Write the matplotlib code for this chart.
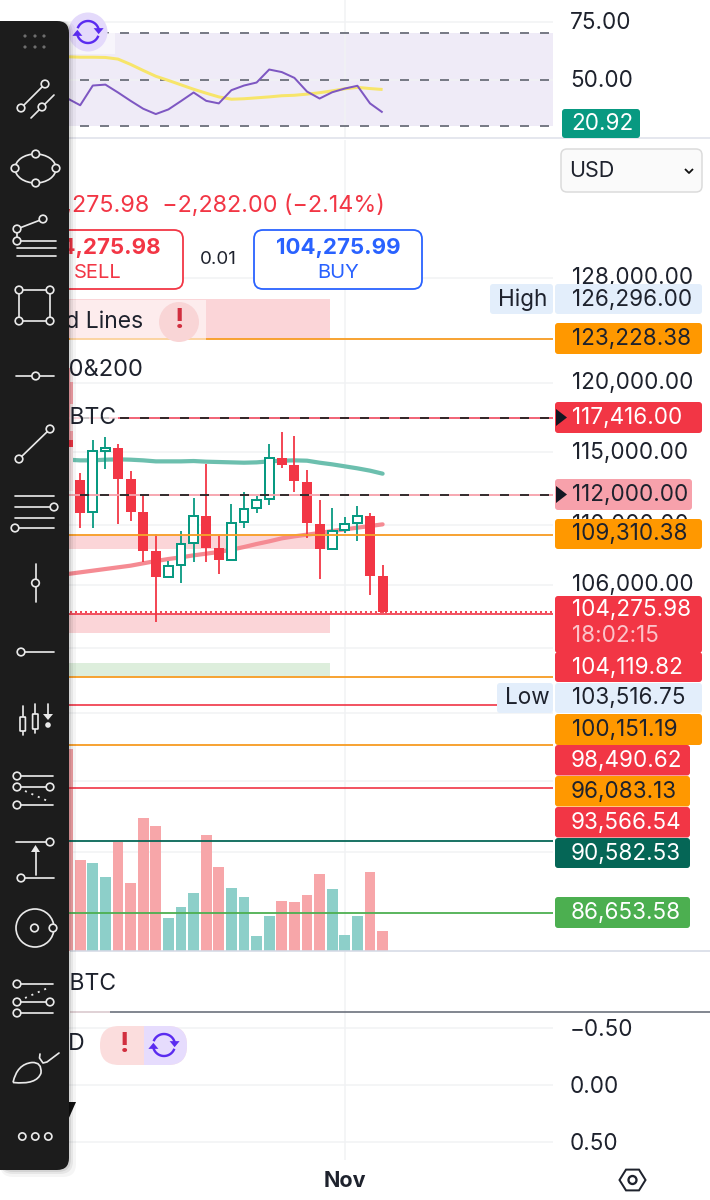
import numpy as np
import matplotlib
matplotlib.use("Agg")
import matplotlib.pyplot as plt
from matplotlib.patches import FancyBboxPatch, Rectangle, Circle, Ellipse, Polygon, PathPatch
from matplotlib.path import Path
from matplotlib.transforms import ScaledTranslation

plt.rcParams['font.family'] = ['Inter', 'DejaVu Sans']
plt.rcParams['lines.scale_dashes'] = False
plt.rcParams['lines.solid_capstyle'] = 'butt'

# ---------- data ----------
candle_index = list(range(-1, 25))
opens  = [121100,113050,110850,115103,115314,113119,110850,108254,106496,107283,108742,110602,108409,107656,110197,111101,111740,114585,114118,112935,110061,108364,109656,110106,110580,106605]
closes = [112300,110805,115103,115314,113119,110873,108254,106496,107218,108719,110580,108409,107612,110129,111033,111649,114562,114118,112958,110084,108342,109567,110039,110557,106605,104276]
highs  = [121100,113514,115858,116096,115550,113700,112014,109344,107568,109567,111786,114164,109232,111398,112198,111946,115597,116451,116143,113746,111649,111101,110512,111280,110760,107305]
lows   = [112300,109745,109745,113792,110016,110264,107524,103591,106430,106149,107524,107524,106714,107612,109790,110760,111330,113909,112244,109121,106365,108364,109410,108875,105348,104212]
volumes= [202,91,88,74,109,68,133,125,33,44,58,116,84,63,54,15,35,50,49,56,77,62,16,35,79,20]
ma_fast= [114468,114421,114421,114468,114492,114468,114421,114350,114350,114350,114374,114327,114304,114280,114257,114280,114350,114397,114421,114397,114257,114141,114002,113862,113700,113490]
ma_slow= [106714,106824,106933,107043,107152,107262,107415,107568,107701,107812,107944,108055,108166,108320,108497,108697,108875,109076,109210,109321,109433,109567,109678,109790,109903,110016]
rsi    = [41.8,38.9,47.4,47.8,44.4,40.8,37.4,35.1,37.1,40.7,44.4,40.8,39.7,45.4,47.4,48.7,54.3,53.2,50.7,44.8,41.8,44.5,46.1,47.3,39.7,35.8]
rsi_ma = [59.8,59.6,59.6,59.5,58.8,56.5,53.9,51.4,49.6,47.7,45.8,44.1,42.5,41.5,41.7,42.1,42.5,43.0,43.2,43.7,44.3,45.1,46.0,46.6,46.1,45.7]
price_ticks = [128000,120000,115000,110000,106000,102000,98000,94000,90000]
price_tick_labels = ['128,000.00','120,000.00','115,000.00','110,000.00','106,000.00','','','','']
rsi_ticks = [75,50]
macd_ticks = [-0.5,0.0,0.5]
level_orange = [123228.38,109310.38,100151.19,96083.13]
level_red = [104119.82,98490.62,93566.54]
level_dkgreen = 90582.53
level_green = 86653.58
level_alert_hi = 117416.00
level_alert_lo = 112000.00
last_price = 104275.98
zones = [(126296,123228,'#FBD5D8'),(109310,108365,'#FBD5D8'),(104119,102922,'#FBD5D8'),(101045,100151,'#DDEEDC')]
nov_index = 21

W, H = 710, 1200
fig = plt.figure(figsize=(W/100, H/100), dpi=100, facecolor='white')
PX = 72/100  # points per pixel

def rect(x0, y0, x1, y1):
    return [x0/W, 1-y1/H, (x1-x0)/W, (y1-y0)/H]

XLIM = ((0-80.2)/12.6, (553-80.2)/12.6)
PLIM = (84679, 139272)
GRID = '#F1F2F4'
TXT = '#1E222D'
FS = 16.2

def nudge(axis_obj, up_px):
    off = ScaledTranslation(0, up_px/100, fig.dpi_scale_trans)
    for lab in axis_obj.get_ticklabels():
        lab.set_transform(lab.get_transform() + off)

# base price axes: grid, ticks and zones
ax = fig.add_axes(rect(0,140,553,951), zorder=1)
ax.set_yscale('log'); ax.set_ylim(*PLIM); ax.set_xlim(*XLIM)
ax.set_yticks(price_ticks)
ax.set_yticklabels(price_tick_labels, fontsize=FS, color=TXT)
ax.yaxis.set_minor_locator(matplotlib.ticker.NullLocator())
ax.yaxis.tick_right()
ax.tick_params(axis='y', length=0, pad=19*PX)
nudge(ax.yaxis, 2)
ax.set_xticks([nov_index]); ax.set_xticklabels([]); ax.tick_params(axis='x', length=0)
ax.grid(True, color=GRID, lw=1.5*PX)
for s in ax.spines.values(): s.set_visible(False)
for top, bot, c in zones:
    ax.add_patch(Rectangle((XLIM[0], bot), (330-0)/12.6, top-bot, fc=c, ec='none', zorder=1.5))

# volume
axv = fig.add_axes(rect(0,140,553,951), zorder=2, sharex=ax)
axv.patch.set_visible(False); axv.set_ylim(0, 811); axv.axis('off')
vol_col = ['#F7A6A9' if c < o else '#8DCFC9' for o, c in zip(opens, closes)]
axv.bar(candle_index, volumes, width=0.87, color=vol_col, linewidth=0)

# candles and levels
axc = fig.add_axes(rect(0,140,553,951), zorder=3, sharex=ax)
axc.patch.set_visible(False); axc.set_yscale('log'); axc.set_ylim(*PLIM); axc.axis('off')
axc.plot(candle_index, ma_fast, color='#6CBFAE', lw=4.2*PX, solid_capstyle='round', zorder=2)
axc.plot(candle_index, ma_slow, color='#F58B93', lw=4.2*PX, solid_capstyle='round', zorder=2)
for i, o, c, h, l in zip(candle_index, opens, closes, highs, lows):
    up = c >= o
    col = '#089981' if up else '#F23645'
    axc.vlines(i, l, h, color=col, lw=1.8*PX, zorder=3)
    axc.bar(i, abs(c-o), bottom=min(o,c), width=0.70 if up else 0.80,
            facecolor='white' if up else col, edgecolor=col, linewidth=2*PX if up else 0, zorder=4)
xs = list(XLIM)
for v in level_orange:
    axc.plot(xs, [v,v], color='#F7A02C', lw=1.9*PX, zorder=6)
for v in level_red:
    axc.plot(xs, [v,v], color='#F0394A', lw=1.7*PX, zorder=6)
axc.plot(xs, [level_dkgreen]*2, color='#056656', lw=1.8*PX, zorder=6)
axc.plot(xs, [level_green]*2, color='#4CAF50', lw=1.8*PX, zorder=6)
axc.plot(xs, [level_alert_hi]*2, color='#F0566A', lw=1.8*PX, zorder=6)
axc.plot(xs, [level_alert_lo]*2, color='#F7A1AB', lw=1.8*PX, zorder=6)
dash = (0, (9*PX, 11*PX))
for v in (level_alert_hi, level_alert_lo):
    axc.plot(xs, [v,v], color='#222222', lw=1.8*PX, ls=dash, zorder=7)
axc.plot(xs, [last_price]*2, color='#F23645', lw=1.8*PX, ls=(0,(2*PX,3*PX)), zorder=6)

# RSI
axr = fig.add_axes(rect(0,0,553,138), zorder=3, sharex=ax)
axr.set_ylim(50+(79.5-138)/2.32, 50+79.5/2.32)
axr.set_yticks(rsi_ticks); axr.set_yticklabels([f"{t:.2f}" for t in rsi_ticks], fontsize=FS, color=TXT)
axr.yaxis.tick_right(); axr.tick_params(axis='y', length=0, pad=17*PX)
nudge(axr.yaxis, 1)
axr.tick_params(axis='x', length=0, labelbottom=False)
axr.set_xticks([nov_index])
axr.grid(True, color=GRID, lw=1.5*PX)
for s in axr.spines.values(): s.set_visible(False)
axr.axhspan(30, 70, color='#EFEBF7', lw=0, zorder=1)
for v in (70, 50, 30):
    axr.axhline(v, color='#787B86', lw=2*PX, ls=dash, zorder=2)
axr.plot(candle_index, rsi_ma, color='#F7E56A', lw=3*PX, zorder=3)
axr.plot(candle_index, rsi, color='#7E57C2', lw=2*PX, zorder=4)

# MACD pane
axm = fig.add_axes(rect(0,1012,553,1160), zorder=3, sharex=ax)
axm.set_ylim(0.658, -0.64)
axm.set_yticks(macd_ticks)
axm.set_yticklabels(['\u22120.50','0.00','0.50'], fontsize=FS, color=TXT)
axm.yaxis.tick_right(); axm.tick_params(axis='y', length=0, pad=17*PX)
axm.set_xticks([nov_index]); axm.set_xticklabels(['Nov'], fontsize=15.5, fontweight='bold', color=TXT)
axm.tick_params(axis='x', length=0, pad=11*PX)
axm.grid(True, color=GRID, lw=1.5*PX)
for s in axm.spines.values(): s.set_visible(False)

# gap pane: keep date line continuous
axg = fig.add_axes(rect(0,951,553,1012), zorder=1, sharex=ax)
axg.set_yticks([]); axg.set_xticks([nov_index]); axg.tick_params(axis='x', length=0, labelbottom=False)
axg.grid(True, axis='x', color=GRID, lw=1.5*PX)
for s in axg.spines.values(): s.set_visible(False)

# ---------- screen chrome in pixel space ----------
ui = fig.add_axes([0,0,1,1], zorder=10)
ui.set_xlim(0,W); ui.set_ylim(H,0); ui.axis('off'); ui.patch.set_visible(False)

def rr(x0,y0,x1,y1,fc,ec='none',lw=0,r=3,z=2,alpha=None):
    ui.add_patch(FancyBboxPatch((x0,y0),x1-x0,y1-y0,boxstyle=f"round,pad=0,rounding_size={r}",
                                fc=fc,ec=ec,lw=lw*PX,zorder=z,alpha=alpha))
def T(x,y,s,c=TXT,fs=FS,ha='left',w='normal',z=3):
    ui.text(x,y+1.5,s,color=c,fontsize=fs,ha=ha,va='center',fontweight=w,zorder=z)

# separators
for y,c,x0,lw in [(138,'#DFE2EA',0,1.6),(951,'#D5DAE6',70,1.6),(1012,'#666C78',110,1.6)]:
    ui.plot([x0,W],[y,y],color=c,lw=lw*PX,zorder=1)
ui.plot([70,110],[1012,1012],color='#D9C8CC',lw=1.6*PX,zorder=1)

# legend veils
for x0,y0,x1,y1,a in [(70,33,115,54,.55),(70,300,206,342,.55),(70,356,143,382,.85),(70,404,118,431,.75),(69,365,73,440,.55),(69,447,73,492,.9)]:
    ui.add_patch(Rectangle((x0,y0),x1-x0,y1-y0,fc='white',ec='none',alpha=a,zorder=1))

# legend texts
RED='#F23645'; BLUE='#2962FF'
T(385,204,'104,275.98  \u22122,282.00 (\u22122.14%)',c=RED,fs=16.8,ha='right')
rr(13,230,183,289,'white',ec=RED,lw=1.8,r=9)
T(98,246,'104,275.98',c=RED,fs=16,ha='center',w='bold')
T(98,271,'SELL',c=RED,fs=14.5,ha='center')
rr(254,230,422,289,'white',ec=BLUE,lw=1.8,r=9)
T(338,246,'104,275.99',c=BLUE,fs=16,ha='center',w='bold')
T(338,271,'BUY',c=BLUE,fs=14.5,ha='center')
T(218,258,'0.01',fs=13.5,ha='center')
T(143,321,'Trend Lines',fs=16.5,ha='right')
T(143,368,'MA 50&200',fs=17,ha='right')
T(116,416,'Vol \u00b7 BTC',fs=16.5,ha='right')
T(116,983,'Vol \u00b7 BTC',fs=16.5,ha='right')
T(85,1043,'MACD',fs=16.5,ha='right')
ui.add_patch(Circle((179,322),20,fc='#F9D5D6',ec='none',zorder=2))
T(179,320,'!',c='#D12F3F',fs=20,ha='center',w='bold')

def refresh(cx,cy,r,z=3):
    col='#5A2BF0'
    for a0,a1,ax_,ay_ in [(200,345,1,1),(20,165,-1,-1)]:
        t=np.radians(np.linspace(a0,a1,30))
        ui.plot(cx+r*np.cos(t),cy+r*np.sin(t),color=col,lw=2.4*PX,zorder=z)
        ex,ey=cx+r*np.cos(t[-1]),cy+r*np.sin(t[-1])
        ui.add_patch(Polygon([(ex-5*ax_,ey-1*ay_),(ex+5*ax_,ey-1*ay_),(ex,ey+5*ay_)],fc=col,ec='none',zorder=z))
ui.add_patch(Circle((88,32),19.5,fc='#E4DAFB',ec='none',zorder=2))
refresh(88,32,11)

# pill
rr(100,1026,187,1065,'#FBDDDD',r=19)
ui.add_patch(FancyBboxPatch((144,1026),43,39,boxstyle="round,pad=0,rounding_size=19",fc='#E6DCFD',ec='none',zorder=2.1))
ui.add_patch(Rectangle((144,1026),22,39,fc='#E6DCFD',ec='none',zorder=2.1))
T(124,1043,'!',c='#D12F3F',fs=20,ha='center',w='bold')
refresh(164,1045,11)

# right side tags
tags=[(490,284,553,314,'#E3EEFB',TXT,'High',498),
      (555,284,702,314,'#E3EEFB',TXT,'126,296.00',572),
      (555,323,702,354,'#FF9800',TXT,'123,228.38',572),
      (555,402,702,433,RED,'white','117,416.00',572),
      (555,479,692,510,'#F7A1AB',TXT,'112,000.00',572),
      (555,519,702,549,'#FF9800',TXT,'109,310.38',572),
      (555,652,702,682,RED,'white','104,119.82',572),
      (497,683,553,713,'#E3EEFB',TXT,'Low',505),
      (555,683,702,713,'#E3EEFB',TXT,'103,516.75',572),
      (555,714,702,745,'#FF9800',TXT,'100,151.19',572),
      (555,745,690,775.5,RED,'white','98,490.62',571),
      (555,776,690,806.5,'#FF9800',TXT,'96,083.13',571),
      (555,807,690,837.5,RED,'white','93,566.54',571),
      (555,838,690,868,'#056656','white','90,582.53',571),
      (555,897,690,928,'#4CAF50','white','86,653.58',571),
      (562,109,640,138,'#089981','white','20.92',571)]
for x0,y0,x1,y1,fc,tc,s,tx in tags:
    rr(x0,y0,x1,y1,fc,r=3)
    T(tx,(y0+y1)/2-1,s,c=tc)
rr(555,596,702,653,RED,r=3)
T(572,608,'104,275.98',c='white')
T(572,634,'18:02:15',c='#FBC4CA',fs=FS)
for yc in (417.5,494.5):
    ui.add_patch(Polygon([(556,yc-8.5),(567,yc),(556,yc+8.5)],fc='#131722',ec='none',zorder=4))

# currency select
rr(561,149,702,192,'#FAFAFA',ec='#DBDBDB',lw=1.5,r=6)
T(569,169.5,'USD',fs=15.5)
ui.plot([685,689,693],[169,173,169],color='#111111',lw=1.8*PX,zorder=3)

# settings hexagon
ang=np.radians(np.arange(6)*60)
ui.add_patch(Polygon(np.c_[632.5+13*np.cos(ang),1180+12*np.sin(ang)],fc='none',ec=TXT,lw=2*PX,zorder=3))
ui.add_patch(Circle((632.5,1180),4,fc='none',ec=TXT,lw=2.3*PX,zorder=3))

# logo sliver
ui.add_patch(Polygon([(68,1102),(76,1102),(68,1120)],fc='#111111',ec='none',zorder=2))

# toolbar
for g,a in [(7,.04),(4,.06),(2,.08)]:
    rr(0,21,69+g,1170+g,'black',r=13,z=4,alpha=a)
ui.add_patch(FancyBboxPatch((-20,21),89,1149,boxstyle="round,pad=0,rounding_size=12",fc='#1C1C1C',ec='none',zorder=5))
IC='#E9E9E9'; LW=1.7*PX
def L(*pts,c=IC,lw=LW,ls='-'):
    xs_,ys_=zip(*pts)
    ui.plot(xs_,ys_,color=c,lw=lw,ls=ls,zorder=6,solid_capstyle='round')
def C(x,y,r=3.8):
    ui.add_patch(Circle((x,y),r,fc='#1C1C1C',ec=IC,lw=LW,zorder=7))
for x in (25,35,44):
    for y in (36,47):
        ui.add_patch(Circle((x,y),1.6,fc='#6E6E6E',ec='none',zorder=6))
# 1
L((21,108),(45,84)); L((31,118),(54,95)); C(21,108); C(45,84); C(42,107)
# 2
ui.add_patch(Ellipse((35.5,168.5),41,29,fc='none',ec=IC,lw=LW,zorder=6))
for p in [(35.7,154),(15,168.3),(56,168.3),(35.7,183)]: C(*p)
# 3
L((17,229),(43,219)); L((17,229),(17,241))
for y in (241,248,255.7): L((17,y),(56,y))
C(17,229); C(43,219); C(17,241)
# 4
L((19,290),(50,290),(50,321),(19,321),(19,290))
for p in [(19,290),(50,290),(19,321),(50,321)]: C(*p)
# 5
L((16,376),(54,376)); C(35.7,376)
# 6
L((19,459),(50,429)); C(19,459); C(50,429)
# 7
for y in (496,507,518,528): L((15,y),(54,y))
C(54,507); C(15,528)
# 8
L((35.5,564),(35.5,602)); C(35.5,583)
# 9
L((21,652),(54,652)); C(21,652)
# 10
L((22.7,706),(22.7,735)); rr(20,717,25.4,731,'#1C1C1C',ec=IC,lw=1.7,r=.5,z=7)
L((35.3,704),(35.3,733)); rr(32.6,714,38,729,'#1C1C1C',ec=IC,lw=1.7,r=.5,z=7)
L((48,704),(48,714)); ui.add_patch(Polygon([(43,714),(53,714),(48,720)],fc=IC,ec='none',zorder=6))
ui.add_patch(Circle((48,725),2.8,fc=IC,ec='none',zorder=6))
# 11
L((17,776),(53,776)); L((17,787),(50,787)); L((17,805),(53,805))
L((25,791),(50,802),ls=(0,(2*PX,5*PX)),lw=1.8*PX)
C(17,776); C(17,787); C(50,787); C(17,805)
# 12
L((16,842),(50,842)); L((21,878),(54,878)); L((35.5,875),(35.5,851))
ui.add_patch(Polygon([(31,852),(40,852),(35.5,845)],fc=IC,ec='none',zorder=6))
C(50,842); C(21,878)
# 13
ui.add_patch(Circle((35,928),19,fc='none',ec=IC,lw=LW,zorder=6)); C(34.5,928); C(53,928)
# 14
L((17,984),(53,984)); L((17,1002),(50,1002)); L((17,1013),(53,1013))
L((25,998),(50,987),ls=(0,(2*PX,5*PX)),lw=1.8*PX)
C(17,984); C(17,1002); C(50,1002); C(17,1013)
# 15 brush
v=[(13,1082.5),(17,1064),(32,1062.5),(42,1062),(41,1073),(37,1085),(13,1082.5)]
ui.add_patch(PathPatch(Path(v,[Path.MOVETO]+[Path.CURVE3]*6),fc='none',ec=IC,lw=LW,zorder=6))
L((40,1054),(39.5,1058),(43,1063),(47,1062),(59,1053))
# 16
for x in (22.3,35.3,48.3): C(x,1136.5,3.6)

fig.savefig('out.png', dpi=100)
